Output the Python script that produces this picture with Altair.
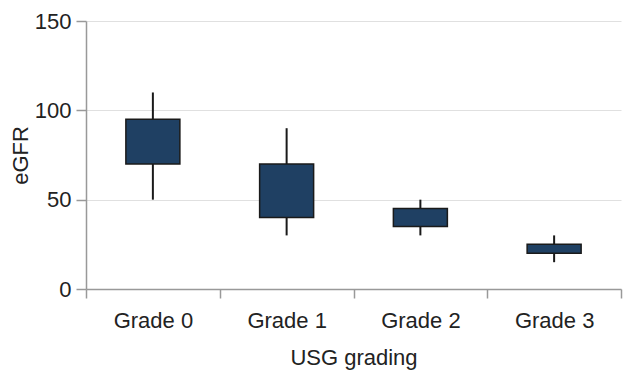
import altair as alt
import pandas as pd

grades = ["Grade 0", "Grade 1", "Grade 2", "Grade 3"]
whisker_low = [50, 30, 30, 15]
q1 = [70, 40, 35, 20]
q3 = [95, 70, 45, 25]
whisker_high = [110, 90, 50, 30]

df = pd.DataFrame({"grade": grades, "lo": whisker_low, "q1": q1, "q3": q3, "hi": whisker_high})

FONT = "Liberation Sans"
x = alt.X("grade:N", title="USG grading", sort=grades,
          scale=alt.Scale(paddingInner=0, paddingOuter=0),
          axis=alt.Axis(labelAngle=0, tickBand="extent", tickSize=9, labelPadding=12,
                        titlePadding=16, domainColor="#999999", tickColor="#999999",
                        tickWidth=1.5, domainWidth=1.5))
y_axis = alt.Axis(values=[0, 50, 100, 150], tickSize=10, labelPadding=5, titlePadding=2,
                  domainColor="#999999", tickColor="#999999", gridColor="#e0e0e0",
                  tickWidth=1.5, domainWidth=1.5, grid=True)

whiskers = alt.Chart(df).mark_rule(color="#1a1a1a", strokeWidth=2).encode(
    x=x,
    y=alt.Y("lo:Q", title="eGFR", scale=alt.Scale(domain=[0, 150], nice=False), axis=y_axis),
    y2="hi:Q",
)
boxes = alt.Chart(df).mark_bar(size=54, color="#1f4063", stroke="#1a1a1a", strokeWidth=1.5).encode(
    x=x,
    y="q1:Q",
    y2="q3:Q",
)

chart = (whiskers + boxes).properties(
    width=535, height=268,
    padding={"left": 1, "top": 2, "right": 5, "bottom": 2},
).configure_axis(
    labelFont=FONT, titleFont=FONT, labelFontSize=22, titleFontSize=22,
    labelColor="#222222", titleColor="#222222", titleFontWeight="normal",
).configure_view(stroke=None)

chart.save("out.html", embed_options={"renderer": "svg", "actions": False})
